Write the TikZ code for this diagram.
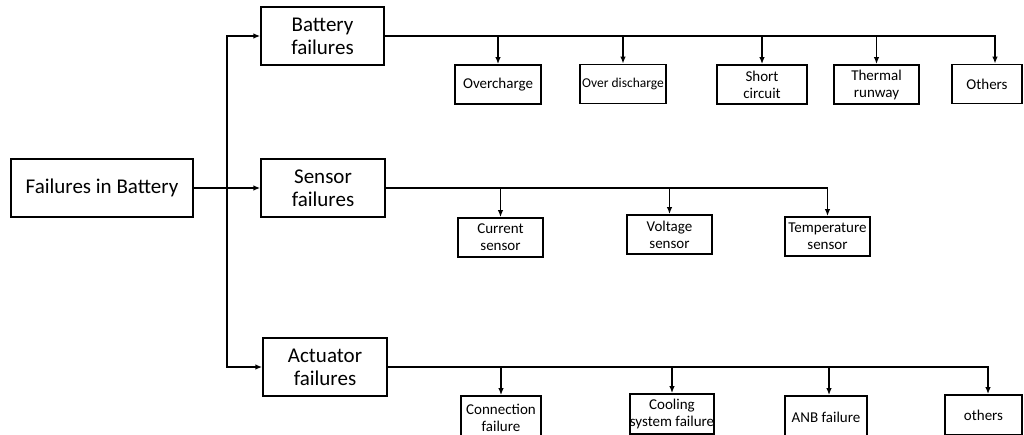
\documentclass[tikz,border=0pt]{standalone}
\usepackage{fontspec}
\setmainfont{Carlito}
\usetikzlibrary{positioning, arrows.meta, calc}

\begin{document}
\begin{tikzpicture}[x=1pt, y=-1pt]
    \tikzset{
        main box/.style={
                draw=black, line width=1.4pt, align=center, inner sep=0pt,
                font=\fontsize{21}{23}\selectfont
            },
        cause box/.style={
                draw=black, line width=1.7pt, align=center, inner sep=0pt,
                minimum height=39, font=\fontsize{15}{17}\selectfont
            },
        branch/.style={
                line width=1.4pt, -{Latex[length=7pt, width=5.5pt]}
            }
    }
    \useasboundingbox (0,0) rectangle (1024,434);
    \clip (0,0) rectangle (1024,434);

    \node[main box, minimum width=182, minimum height=58] (root) at (102,188) {Failures in Battery};
    \node[main box, minimum width=123, minimum height=58] (bat) at (322.5,36) {Battery\\failures};
    \node[main box, minimum width=124, minimum height=58] (sen) at (323,188) {Sensor\\failures};
    \node[main box, minimum width=124, minimum height=58] (act) at (325,367) {Actuator\\failures};
    \coordinate (trunk) at (227,188);

    % Top level split
    \draw[branch] (root.east) -- (sen.west);
    \draw[branch] (trunk) |- (bat.west);
    \draw[branch] (trunk) |- (act.west);

    % Battery failures
    \node[cause box, minimum width=86] (ovc) at (498,84.5) {Overcharge};
    \node[cause box, minimum width=86, font=\fontsize{13.5}{15}\selectfont] (ovd) at (623,84) {Over discharge};
    \node[cause box, minimum width=90] (shc) at (762,84.5) {Short\\circuit};
    \node[cause box, minimum width=85] (thr) at (876.5,84.5) {Thermal\\runway};
    \node[cause box, minimum width=70] (oth) at (987,84) {Others};
    \draw[branch] (bat.east) -| ([xshift=8]oth.north);
    \foreach \c in {ovc, ovd, shc, thr}
        \draw[branch] (bat.east -| \c.north) -- (\c.north);

    % Sensor failures
    \node[cause box, minimum width=85] (cur) at (500.5,237.5) {Current\\sensor};
    \node[cause box, minimum width=85] (vol) at (669.5,234.5) {Voltage\\sensor};
    \node[cause box, minimum width=85] (tmp) at (827.5,236.5) {Temperature\\sensor};
    \draw[branch] (sen.east) -| (tmp.north);
    \foreach \c in {cur, vol}
        \draw[branch] (sen.east -| \c.north) -- (\c.north);

    % Actuator failures
    \node[cause box, minimum width=80, minimum height=44] (con) at (501,418) {Connection\\failure};
    \node[cause box, minimum width=84, minimum height=40] (cool) at (672,414) {Cooling\\system failure};
    \node[cause box, minimum width=82, minimum height=42] (anb) at (826,417) {ANB failure};
    \node[cause box, minimum width=77, minimum height=40] (oth2) at (983.5,415) {others};
    \draw[branch] (act.east) -| ([xshift=4.5]oth2.north);
    \draw[branch] (act.east -| con.north) -- (con.north);
    \draw[branch] (act.east -| cool.north) -- (cool.north);
    \draw[branch] ([xshift=3]act.east -| anb.north) -- ([xshift=3]anb.north);
\end{tikzpicture}
\end{document}
